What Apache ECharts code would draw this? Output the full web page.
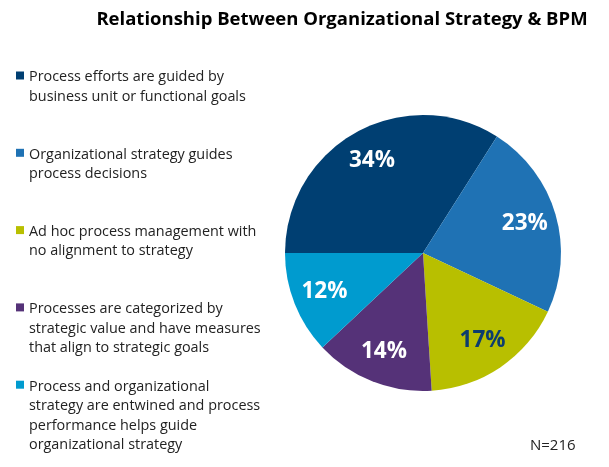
<!DOCTYPE html>
<html>
<head>
<meta charset="utf-8">
<script src="https://cdn.jsdelivr.net/npm/echarts@6/dist/echarts.min.js"></script>
<style>
  html, body { margin: 0; padding: 0; background: #fff; }
  #chart { width: 609px; height: 467px; }
</style>
</head>
<body>
<div id="chart"></div>
<script>
// 数据
var categories = [
  'Process efforts are guided by\nbusiness unit or functional goals',
  'Organizational strategy guides\nprocess decisions',
  'Ad hoc process management with\nno alignment to strategy',
  'Processes are categorized by\nstrategic value and have measures\nthat align to strategic goals',
  'Process and organizational\nstrategy are entwined and process\nperformance helps guide\norganizational strategy'
];
var values = [34, 23, 17, 14, 12];
var colors = ['#003f72', '#1f72b4', '#b8bf00', '#553278', '#009bcf'];
var labelColors = ['#fff', '#fff', '#0d3d6e', '#fff', '#fff'];

var font = '"Open Sans", "Noto Sans", sans-serif';

var pieData = categories.map(function (c, i) {
  return { name: c, value: values[i], itemStyle: { color: colors[i] } };
});
// 透明的一层，只用来把百分比放到靠外的位置
var labelData = categories.map(function (c, i) {
  return {
    name: c, value: values[i],
    label: { color: labelColors[i] }
  };
});

// 左侧图例
var legendItems = [];
categories.forEach(function (c, i) {
  var top = 67.5 + i * 77.3;
  legendItems.push({
    type: 'rect',
    shape: { x: 16, y: top + 4, width: 8, height: 8 },
    style: { fill: colors[i] }
  });
  legendItems.push({
    type: 'text',
    x: 29, y: top,
    style: {
      text: c,
      font: '14.4px ' + font,
      fill: '#222',
      lineHeight: 19.5
    }
  });
});

var myChart = echarts.init(document.getElementById('chart'));
var option = {
  backgroundColor: '#fff',
  title: {
    text: 'Relationship Between Organizational Strategy & BPM',
    left: 337, top: 5, textAlign: 'center',
    textStyle: { fontFamily: font, fontSize: 18.5, fontWeight: 'bold', color: '#000' }
  },
  graphic: legendItems.concat([{
    type: 'text',
    x: 530, y: 438,
    style: { text: 'N=216', font: '15px ' + font, fill: '#222' }
  }]),
  series: [{
    type: 'pie',
    center: [423, 253],
    radius: 138,
    startAngle: 180,
    clockwise: true,
    silent: true,
    label: { show: false },
    labelLine: { show: false },
    data: pieData
  }, {
    type: 'pie',
    center: [423, 253],
    radius: 206,
    startAngle: 180,
    clockwise: true,
    silent: true,
    itemStyle: { color: 'rgba(0,0,0,0)' },
    label: {
      show: true,
      position: 'inside',
      formatter: '{c}%',
      fontFamily: font,
      fontSize: 22.5,
      fontWeight: 'bold'
    },
    labelLine: { show: false },
    data: labelData
  }]
};
myChart.setOption(option);
</script>
</body>
</html>
